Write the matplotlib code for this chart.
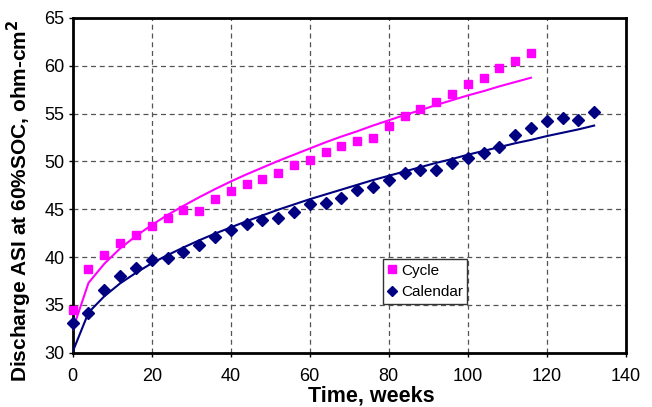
import matplotlib
matplotlib.use("Agg")
import matplotlib.pyplot as plt
from matplotlib.ticker import MultipleLocator

plt.rcParams['font.family'] = ['Liberation Sans', 'DejaVu Sans']

# Measured data (weeks, ohm-cm2)
cycle_weeks = [0, 4, 8, 12, 16, 20, 24, 28, 32, 36, 40, 44, 48, 52, 56, 60, 64, 68,
               72, 76, 80, 84, 88, 92, 96, 100, 104, 108, 112, 116]
cycle_asi = [34.5, 38.8, 40.2, 41.5, 42.3, 43.2, 44.1, 44.9, 44.8, 46.1, 46.9, 47.6, 48.2,
             48.8, 49.6, 50.2, 51.0, 51.6, 52.1, 52.5, 53.7, 54.7, 55.5, 56.2, 57.1,
             58.1, 58.7, 59.8, 60.5, 61.3]

calendar_weeks = [0, 4, 8, 12, 16, 20, 24, 28, 32, 36, 40, 44, 48, 52, 56, 60, 64, 68,
                  72, 76, 80, 84, 88, 92, 96, 100, 104, 108, 112, 116, 120, 124, 128, 132]
calendar_asi = [33.1, 34.2, 36.6, 38.0, 38.9, 39.7, 39.9, 40.5, 41.3, 42.1, 42.8, 43.5,
                43.9, 44.1, 44.7, 45.5, 45.7, 46.2, 47.0, 47.3, 48.1, 48.8, 49.1, 49.1,
                49.8, 50.4, 50.9, 51.5, 52.8, 53.5, 54.2, 54.5, 54.3, 55.2]

# Fitted curves
cycle_fit = [32.4, 37.3, 39.3, 40.9, 42.2, 43.35, 44.4, 45.35, 46.25, 47.1, 47.9, 48.65,
             49.35, 50.05, 50.7, 51.35, 52.0, 52.6, 53.15, 53.75, 54.3, 54.85, 55.35,
             55.9, 56.4, 56.9, 57.35, 57.85, 58.3, 58.75]
calendar_fit = [30.1, 34.2, 35.9, 37.25, 38.35, 39.35, 40.2, 41.0, 41.75, 42.45, 43.1,
                43.75, 44.35, 44.95, 45.5, 46.05, 46.55, 47.05, 47.55, 48.05, 48.5, 48.95,
                49.4, 49.85, 50.25, 50.7, 51.1, 51.5, 51.9, 52.25, 52.65, 53.0, 53.35, 53.75]

magenta = '#FF00FF'
navy = '#000080'

fig = plt.figure(figsize=(6.52, 4.07), dpi=100)
ax = fig.add_axes([0.1115, 0.1334, 0.8482, 0.8224])

ax.plot(cycle_weeks, cycle_fit, color=magenta, lw=1.5, zorder=3)
ax.plot(calendar_weeks, calendar_fit, color=navy, lw=1.5, zorder=3)
ax.plot(cycle_weeks, cycle_asi, linestyle='none', marker='s', ms=6.3, color=magenta,
        mec=magenta, label='Cycle', zorder=4, clip_on=False)
ax.plot(calendar_weeks, calendar_asi, linestyle='none', marker='D', ms=5.8, color=navy,
        mec=navy, label='Calendar', zorder=4, clip_on=False)

ax.set_xlim(0, 140)
ax.set_ylim(30, 65)
ax.xaxis.set_major_locator(MultipleLocator(20))
ax.yaxis.set_major_locator(MultipleLocator(5))
ax.grid(True, color='#555555', linestyle=(0, (4, 3)), linewidth=0.9)
ax.set_axisbelow(True)
for s in ax.spines.values():
    s.set_linewidth(2)
ax.tick_params(direction='out', length=3, width=1, labelsize=13, pad=3)
ax.tick_params(axis='x', pad=8)

ax.set_xlabel('Time, weeks', fontsize=15.5, fontweight='bold')
ax.xaxis.set_label_coords(0.54, -0.145)
ax.xaxis.label.set_va('baseline')
ax.set_ylabel('Discharge ASI at 60%SOC, ohm-cm$^\\mathbf{2}$', fontsize=15,
              fontweight='bold')
ax.yaxis.set_label_coords(-0.07, 0.453)

leg = ax.legend(loc='upper left', bbox_to_anchor=(0.5617, 0.28), borderaxespad=0,
                fontsize=11, frameon=True, fancybox=False, edgecolor='#333333',
                framealpha=1, handlelength=0.6, handletextpad=0.25, borderpad=0.3,
                labelspacing=0.5, markerscale=0.85)
leg.get_frame().set_linewidth(1)

fig.savefig('out.png', dpi=100, facecolor='white')
